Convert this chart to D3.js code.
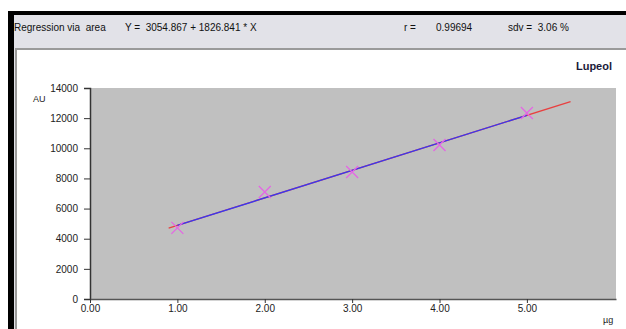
<!DOCTYPE html>
<html>
<head>
<meta charset="utf-8">
<script src="https://cdn.jsdelivr.net/npm/d3@7"></script>
<style>
  html, body { margin: 0; background: #fff; overflow: hidden; width: 626px; height: 329px; }
  svg { display: block; font-family: "Liberation Sans", Arial, sans-serif; }
  text { white-space: pre; }
</style>
</head>
<body>
<svg id="canvas" width="626" height="329"></svg>
<script>
const svg = d3.select("#canvas");
const width = 626;
const height = 329;

// calibration points (amount in µg, peak area in AU)
const amounts = [1, 2, 3, 4, 5];
const areas = [4720, 7100, 8430, 10220, 12340];

// regression from the header
const intercept = 3054.867;
const slope = 1826.841;
const fitStart = 0.9;
const fitEnd = 5.5;

const xTicks = [0, 1, 2, 3, 4, 5];
const yTicks = [0, 2000, 4000, 6000, 8000, 10000, 12000, 14000];

const x = d3.scaleLinear().domain([0, 6.02]).range([90, 616]);
const y = d3.scaleLinear().domain([0, 14000]).range([299, 88]);

// window frame: black top/left edges, header band, grey inner rule, white panel
const frame = [
    { x: 0, y: 0, w: width, h: height, fill: "#fff" },
    { x: 8, y: 11, w: width - 8, h: 4, fill: "#000" },
    { x: 8, y: 11, w: 6, h: height - 11, fill: "#000" },
    { x: 14, y: 15, w: width - 14, h: 33, fill: "#e2e2e8" },
    { x: 14, y: 48, w: 1, h: height - 48, fill: "#e2e2e8" },
    { x: 15, y: 48, w: width - 15, h: 2, fill: "#9a9a9a" },
    { x: 15, y: 48, w: 2, h: height - 48, fill: "#9a9a9a" },
    { x: 17, y: 50, w: width - 17, h: height - 50, fill: "#fff" }
];
svg.selectAll("rect.frame")
    .data(frame)
    .enter()
    .append("rect")
    .attr("class", "frame")
    .attr("x", d => d.x).attr("y", d => d.y)
    .attr("width", d => d.w).attr("height", d => d.h)
    .attr("fill", d => d.fill);

// header
const header = svg.append("g")
    .attr("font-size", "10px")
    .attr("fill", "#111");

header.append("text").attr("x", 14).attr("y", 31).text("Regression via  area");
header.append("text").attr("x", 125).attr("y", 31).text("Y =  3054.867 + 1826.841 * X");
header.append("text").attr("x", 404).attr("y", 31).text("r =");
header.append("text").attr("x", 436).attr("y", 31).text("0.99694");
header.append("text").attr("x", 508).attr("y", 31).text("sdv =  3.06 %");

svg.append("text")
    .attr("x", 612).attr("y", 70)
    .attr("text-anchor", "end")
    .attr("font-size", "11px")
    .attr("font-weight", "bold")
    .attr("fill", "#1a1a3a")
    .text("Lupeol");

// plot background
svg.append("rect")
    .attr("x", x(0)).attr("y", y(14000))
    .attr("width", x.range()[1] - x(0))
    .attr("height", y(0) - y(14000))
    .attr("fill", "#c0c0c0");

// axes
const yAxis = svg.append("g")
    .attr("transform", `translate(${x(0)},0)`)
    .call(d3.axisLeft(y).tickValues(yTicks).tickSize(6).tickPadding(6).tickFormat(d3.format("d")));

const xAxis = svg.append("g")
    .attr("transform", `translate(0,${y(0)})`)
    .call(d3.axisBottom(x).tickValues(xTicks).tickSize(4).tickSizeOuter(0).tickPadding(2).tickFormat(d3.format(".2f")));

[yAxis, xAxis].forEach(g => {
    g.select(".domain").attr("stroke", "#333").attr("stroke-width", 1.5);
    g.selectAll(".tick line").attr("stroke", "#333");
    g.selectAll(".tick text")
        .attr("fill", "#222")
        .attr("font-size", "10px")
        .attr("font-family", "Liberation Sans, Arial, sans-serif");
});
xAxis.select(".domain").attr("stroke", "#555");

svg.append("text")
    .attr("x", 33).attr("y", 102)
    .attr("font-size", "9px")
    .attr("fill", "#222")
    .text("AU");

svg.append("text")
    .attr("x", 603).attr("y", 323)
    .attr("font-size", "9px")
    .attr("fill", "#222")
    .text("µg");

// regression line: red extension, blue over the data range
const fit = v => intercept + slope * v;
const line = d3.line().x(d => x(d)).y(d => y(fit(d)));

svg.append("path")
    .attr("d", line([fitStart, fitEnd]))
    .attr("stroke", "#e84040")
    .attr("stroke-width", 1.3)
    .attr("fill", "none");

svg.append("path")
    .attr("d", line([amounts[0], amounts[amounts.length - 1]]))
    .attr("stroke", "#3838f0")
    .attr("stroke-width", 1.4)
    .attr("fill", "none");

// points as crosses
const s = 6;
svg.selectAll("path.pt")
    .data(amounts)
    .enter()
    .append("path")
    .attr("class", "pt")
    .attr("d", (d, i) => {
        const cx = x(d), cy = y(areas[i]);
        return `M${cx - s},${cy - s}L${cx + s},${cy + s}M${cx - s},${cy + s}L${cx + s},${cy - s}`;
    })
    .attr("stroke", "#e466e4")
    .attr("stroke-width", 1.3)
    .attr("fill", "none");
</script>
</body>
</html>
